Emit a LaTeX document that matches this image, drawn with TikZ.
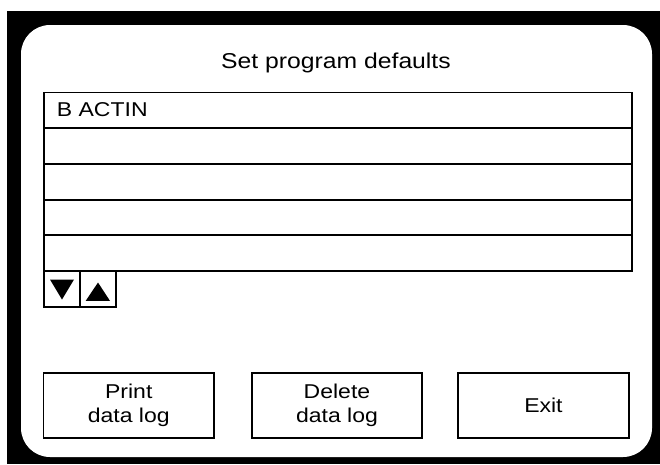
\documentclass[tikz,border=0pt]{standalone}
\usepackage{fontspec}
\setmainfont{Liberation Sans}[FakeStretch=1.15]
\begin{document}
\begin{tikzpicture}[x=1pt,y=-1pt,
  box/.style={draw=black, line width=1.6pt, inner sep=0pt, outer sep=0pt, anchor=north west},
  rowbox/.style={box, line width=1.9pt, minimum width=588pt, minimum height=35.7pt},
  arrowbox/.style={box, line width=1.5pt, minimum width=36pt, minimum height=36pt},
  btn/.style={box, minimum width=170.5pt, minimum height=65.5pt, align=center,
    font=\fontsize{20}{23.7}\selectfont},
  lbl/.style={font=\fontsize{20}{23.7}\selectfont, inner sep=0pt},
  tri/.style={fill=black}]
\useasboundingbox (0,0) rectangle (660,464);
\fill[black] (7,11) rectangle (660,464);
\fill[white, rounded corners=29pt] (21,25) rectangle (652,457);
% title
\node[font=\fontsize{21.5}{26}\selectfont, inner sep=0pt, anchor=base] (title) at (336,68.3) {Set program defaults};
% list rows
\foreach \i in {0,...,4}{
  \node[rowbox] (row\i) at (44,{92.5+35.7*\i}) {};
}
\node[lbl, anchor=base west] (entry) at (56.7,116) {B ACTIN};
% scroll buttons
\node[arrowbox] (dn) at (44,271.2) {};
\node[arrowbox] (up) at (80,271.2) {};
\fill[tri] ([shift={(-12,-9.7)}]dn.center) -- ([shift={(12,-9.7)}]dn.center) -- ([shift={(0,10.3)}]dn.center) -- cycle;
\fill[tri] ([shift={(-12.3,11.7)}]up.center) -- ([shift={(12,11.7)}]up.center) -- ([shift={(0,-6.7)}]up.center) -- cycle;
% buttons
\node[btn] (print) at (43.5,372.7) {Print\\data log};
\node[btn] (delete) at (251.7,372.7) {Delete\\data log};
\node[btn] (exit) at (458.2,372.7) {Exit};
\end{tikzpicture}
\end{document}
